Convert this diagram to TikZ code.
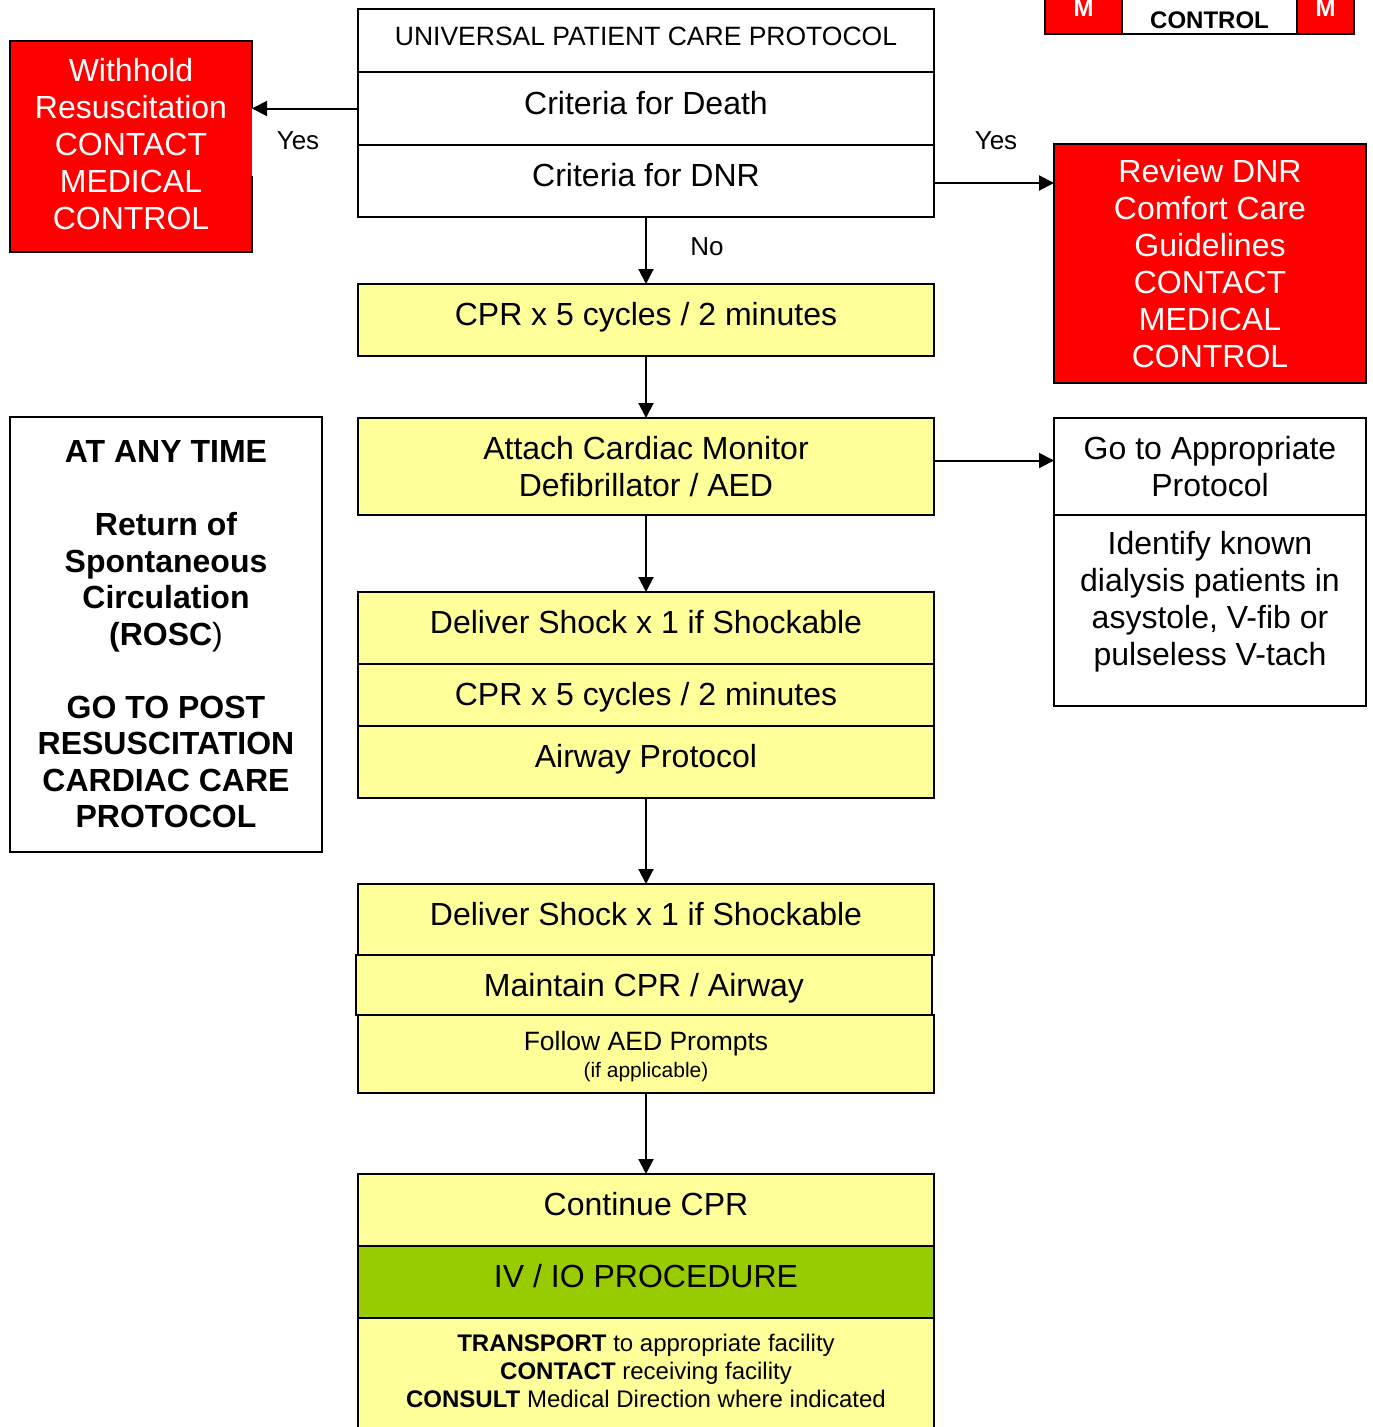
\documentclass[tikz,border=0pt]{standalone}
\usepackage{fontspec}
\setmainfont{Liberation Sans}
\usetikzlibrary{arrows.meta}
\definecolor{boxyellow}{HTML}{FFFF99}
\definecolor{boxgreen}{HTML}{99CC00}
\definecolor{boxred}{HTML}{FF0000}
\newcommand{\fsz}[2]{\fontsize{#1}{#2}\selectfont}
\begin{document}
\begin{tikzpicture}[x=1pt,y=-1pt,
  base/.style={draw=black, line width=2pt, inner sep=0pt, outer sep=0pt, align=center},
  wide/.style={base, minimum width=576pt},
  big/.style={font=\fsz{32}{37}},
  oneline/.style={big, text height=23pt, text depth=12pt},
  yel/.style={fill=boxyellow},
  redbox/.style={fill=boxred, text=white},
  side/.style={base, minimum width=312pt},
  lbl/.style={font=\fsz{26}{30}, inner sep=0pt},
  arr/.style={line width=2pt, -{Triangle[length=15pt,width=15pt]}}
]
\useasboundingbox (0,0) rectangle (1373,1427);
\clip (0,0) rectangle (1373,1427);

% top-right MED CONTROL badge
\node[base, fill=boxred, minimum width=77pt, minimum height=79pt] (mcl) at (1083.5,-5.5) {};
\node[base, fill=white, minimum width=175pt, minimum height=79pt] (mcc) at (1209.5,-5.5) {};
\node[base, fill=boxred, minimum width=57pt, minimum height=79pt] (mcr) at (1325.5,-5.5) {};
\node[font=\fsz{24}{28}\bfseries, text=white, inner sep=0pt] (mltext) at (1083.5,8) {M};
\node[font=\fsz{24}{28}\bfseries, text=white, inner sep=0pt] (mrtext) at (1325.5,8) {M};
\node[font=\fsz{24}{28}\bfseries, align=center, inner sep=0pt] (mctext) at (1209.5,6) {MED\\CONTROL};

% main column
\node[wide, fill=white, minimum height=63pt, font=\fsz{26.5}{30}, text height=19pt, text depth=10pt] (upcp) at (646,40.5) {UNIVERSAL PATIENT CARE PROTOCOL};
\node[wide, fill=white, oneline, minimum height=73pt] (death) at (646,108.5) {Criteria for Death};
\node[wide, fill=white, oneline, minimum height=72pt] (dnr) at (646,181) {Criteria for DNR};
\node[wide, yel, oneline, minimum height=72pt] (cpr1) at (646,320) {CPR x 5 cycles / 2 minutes};
\node[wide, yel, big, minimum height=97pt] (attach) at (646,466.5) {Attach Cardiac Monitor\\Defibrillator / AED};
\node[wide, yel, oneline, minimum height=72pt] (shock1) at (646,628) {Deliver Shock x 1 if Shockable};
\node[wide, yel, big, text height=23pt, text depth=2pt, minimum height=62pt] (cpr2) at (646,695) {CPR x 5 cycles / 2 minutes};
\node[wide, yel, oneline, minimum height=72pt] (airway) at (646,762) {Airway Protocol};
\node[wide, yel, oneline, minimum height=71pt] (shock2) at (646,919.5) {Deliver Shock x 1 if Shockable};
\node[wide, yel, big, text height=23pt, text depth=0pt, minimum height=60pt] (maintain) at (644,985) {Maintain CPR / Airway};
\node[wide, yel, minimum height=78pt] (aed) at (646,1054) {};
\node[font=\fsz{26.5}{27}, align=center, inner sep=0pt] (aedtext) at (646,1057)
  {Follow AED Prompts\\{\fsz{21}{27}(if applicable)}};
\node[wide, yel, oneline, minimum height=72pt] (cont) at (646,1210) {Continue CPR};
\node[wide, fill=boxgreen, oneline, minimum height=72pt] (ivio) at (646,1282) {IV / IO PROCEDURE};
\node[wide, yel, minimum height=122pt] (transport) at (646,1379) {};
\node[font=\fsz{24}{28}, align=center, inner sep=0pt] (transporttext) at (646,1371)
  {\textbf{TRANSPORT} to appropriate facility\\\textbf{CONTACT} receiving facility\\\textbf{CONSULT} Medical Direction where indicated};

% left side
\node[base, draw=none, fill=boxred, minimum width=242pt, minimum height=211pt] (withhold) at (131,146.5) {};
\node[big, text=white, align=center, inner sep=0pt] (withholdtext) at (131,144.5)
  {Withhold\\Resuscitation\\CONTACT\\MEDICAL\\CONTROL};
\draw[line width=2pt] (withhold.east |- 0,108) -- (withhold.north east) -- (withhold.north west)
  -- (withhold.south west) -- (withhold.south east) -- (withhold.east |- 0,176);
\node[side, fill=white, font=\fsz{32}{36.5}\bfseries, minimum height=435pt] (rosc) at (166,634.5)
  {AT ANY TIME\\[36.5pt]Return of\\Spontaneous\\Circulation\\(ROSC{\mdseries )}\\[36.5pt]GO TO POST\\RESUSCITATION\\CARDIAC CARE\\PROTOCOL};

% right side
\node[side, redbox, big, minimum height=239pt] (review) at (1210,263.5)
  {Review DNR\\Comfort Care\\Guidelines\\CONTACT\\MEDICAL\\CONTROL};
\node[side, fill=white, big, minimum height=97pt] (goto) at (1210,466.5) {Go to Appropriate\\Protocol};
\node[side, fill=white, minimum height=191pt] (idbox) at (1210,610.5) {};
\node[big, align=center, inner sep=0pt] (idtext) at (1210,601.5)
  {Identify known\\dialysis patients in\\asystole, V-fib or\\pulseless V-tach};

% connectors
\draw[arr] (death.west) -- (death.west -| withhold.east);
\draw[arr] ([yshift=-2pt]dnr.east) -- ([yshift=-2pt]dnr.east -| review.west);
\draw[arr] (dnr.south) -- (cpr1.north);
\draw[arr] (cpr1.south) -- (attach.north);
\draw[arr] ([yshift=6pt]attach.east) -- ([yshift=6pt]attach.east -| goto.west);
\draw[arr] (attach.south) -- (shock1.north);
\draw[arr] (airway.south) -- (shock2.north);
\draw[arr] (aed.south) -- (cont.north);

% labels
\node[lbl] (yesleft) at (298,141) {Yes};
\node[lbl] (yesright) at (996,141) {Yes};
\node[lbl] (no) at (707,247) {No};
\end{tikzpicture}
\end{document}
